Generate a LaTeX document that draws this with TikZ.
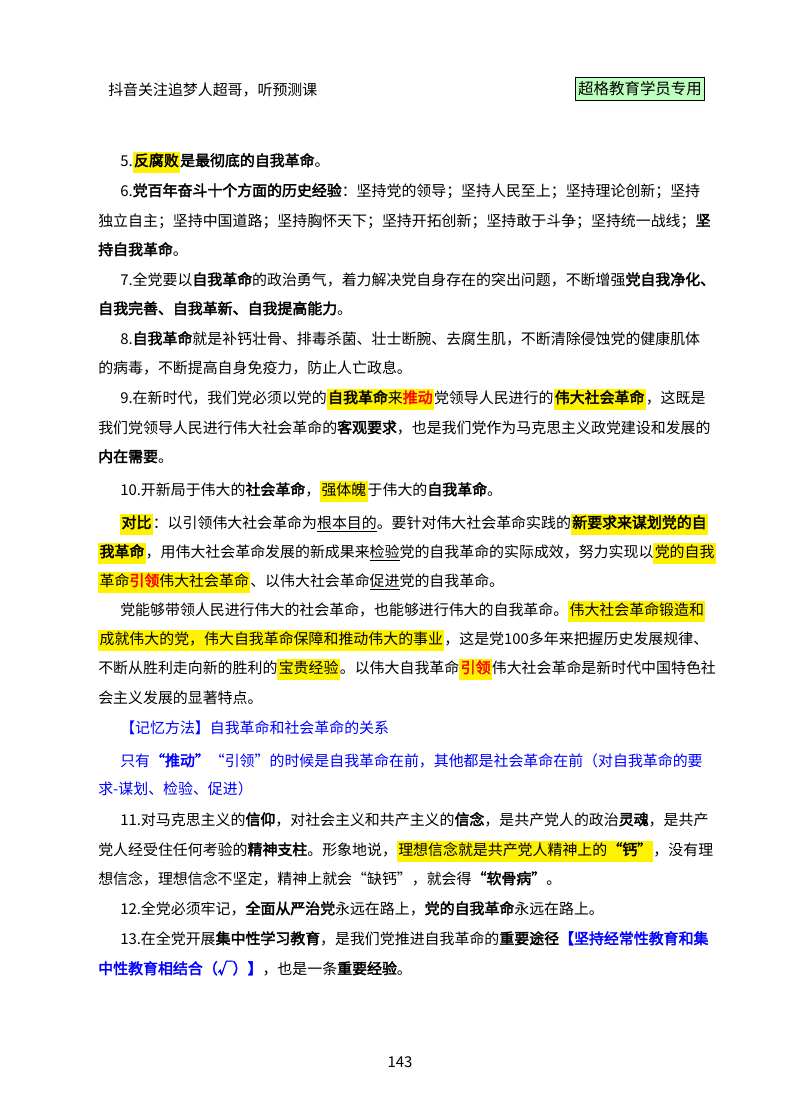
\documentclass[tikz,border=0pt]{standalone}
\usepackage{fontspec}
\setmainfont{Noto Sans CJK SC}[AutoFakeBold=2.5]
\newcommand{\hlt}[1]{{\setlength{\fboxsep}{1pt}\colorbox{yellow}{\strut #1}}}
\newcommand{\rd}[1]{\textcolor{red}{#1}}
\newcommand{\ul}[1]{\underline{#1}}
\begin{document}
\begin{tikzpicture}[x=0.75pt,y=-0.75pt,
  ln/.style={anchor=base west,inner sep=0,font=\fontsize{11.2}{13}\selectfont},
  bl/.style={ln,text=blue}]
\useasboundingbox (0,0) rectangle (800,1114);
\fill[white] (0,0) rectangle (800,1114);
\node[ln] (h1) at (108,95) {抖音关注追梦人超哥，听预测课};
\node[draw,fill=green!25,inner sep=2pt,minimum width=125*0.75pt,minimum height=23*0.75pt,font=\fontsize{11.6}{14}\selectfont] (h2) at (640,89) {超格教育学员专用};
\node[ln] (l1) at (120,166) {5.\hlt{\textbf{反腐败}}\textbf{是最彻底的自我革命}。};
\node[ln] (l2) at (120,196) {6.\textbf{党百年奋斗十个方面的历史经验}：坚持党的领导；坚持人民至上；坚持理论创新；坚持};
\node[ln] (l3) at (98,226) {独立自主；坚持中国道路；坚持胸怀天下；坚持开拓创新；坚持敢于斗争；坚持统一战线；\textbf{坚}};
\node[ln] (l4) at (98,255) {\textbf{持自我革命}。};
\node[ln] (l5) at (120,285) {7.全党要以\textbf{自我革命}的政治勇气，着力解决党自身存在的突出问题，不断增强\textbf{党自我净化、}};
\node[ln] (l6) at (98,314) {\textbf{自我完善、自我革新、自我提高能力}。};
\node[ln] (l7) at (120,344) {8.\textbf{自我革命}就是补钙壮骨、排毒杀菌、壮士断腕、去腐生肌，不断清除侵蚀党的健康肌体};
\node[ln] (l8) at (98,373) {的病毒，不断提高自身免疫力，防止人亡政息。};
\node[ln] (l9) at (120,403) {9.在新时代，我们党必须以党的\hlt{\textbf{自我革命}来\rd{\textbf{推动}}}党领导人民进行的\hlt{\textbf{伟大社会革命}}，这既是};
\node[ln] (l10) at (98,433) {我们党领导人民进行伟大社会革命的\textbf{客观要求}，也是我们党作为马克思主义政党建设和发展的};
\node[ln] (l11) at (98,462) {\textbf{内在需要}。};
\node[ln] (l12) at (120,495) {10.开新局于伟大的\textbf{社会革命}，\hlt{强体魄}于伟大的\textbf{自我革命}。};
\node[ln] (l13) at (120,528) {\hlt{\textbf{对比}}：以引领伟大社会革命为\ul{根本目的}。要针对伟大社会革命实践的\hlt{\textbf{新要求来谋划党的自}}};
\node[ln] (l14) at (98,557) {\hlt{\textbf{我革命}}，用伟大社会革命发展的新成果来\ul{检验}党的自我革命的实际成效，努力实现以\hlt{党的自我}};
\node[ln] (l15) at (98,586) {\hlt{革命\rd{\textbf{引领}}伟大社会革命}、以伟大社会革命\ul{促进}党的自我革命。};
\node[ln] (l16) at (120,615) {党能够带领人民进行伟大的社会革命，也能够进行伟大的自我革命。\hlt{伟大社会革命锻造和}};
\node[ln] (l17) at (98,644) {\hlt{成就伟大的党，伟大自我革命保障和推动伟大的事业}，这是党100多年来把握历史发展规律、};
\node[ln] (l18) at (98,673) {不断从胜利走向新的胜利的\hlt{宝贵经验}。以伟大自我革命\hlt{\rd{\textbf{引领}}}伟大社会革命是新时代中国特色社};
\node[ln] (l19) at (98,703) {会主义发展的显著特点。};
\node[bl] (l20) at (120,733) {【记忆方法】自我革命和社会革命的关系};
\node[bl] (l21) at (120,766) {只有\textbf{“推动”}“引领”的时候是自我革命在前，其他都是社会革命在前（对自我革命的要};
\node[bl] (l22) at (98,794) {求-谋划、检验、促进）};
\node[ln] (l23) at (120,825) {11.对马克思主义的\textbf{信仰}，对社会主义和共产主义的\textbf{信念}，是共产党人的政治\textbf{灵魂}，是共产};
\node[ln] (l24) at (98,855) {党人经受住任何考验的\textbf{精神支柱}。形象地说，\hlt{理想信念就是共产党人精神上的\textbf{“钙”}}，没有理};
\node[ln] (l25) at (98,884) {想信念，理想信念不坚定，精神上就会“缺钙”，就会得\textbf{“软骨病”}。};
\node[ln] (l26) at (120,914) {12.全党必须牢记，\textbf{全面从严治党}永远在路上，\textbf{党的自我革命}永远在路上。};
\node[ln] (l27) at (120,944) {13.在全党开展\textbf{集中性学习教育}，是我们党推进自我革命的\textbf{重要途径}\textcolor{blue}{\textbf{【坚持经常性教育和集}}};
\node[ln] (l28) at (98,974) {\textcolor{blue}{\textbf{中性教育相结合（√）】}}，也是一条\textbf{重要经验}。};
\node[ln,anchor=center] (pg) at (400,1062) {143};
\end{tikzpicture}
\end{document}
